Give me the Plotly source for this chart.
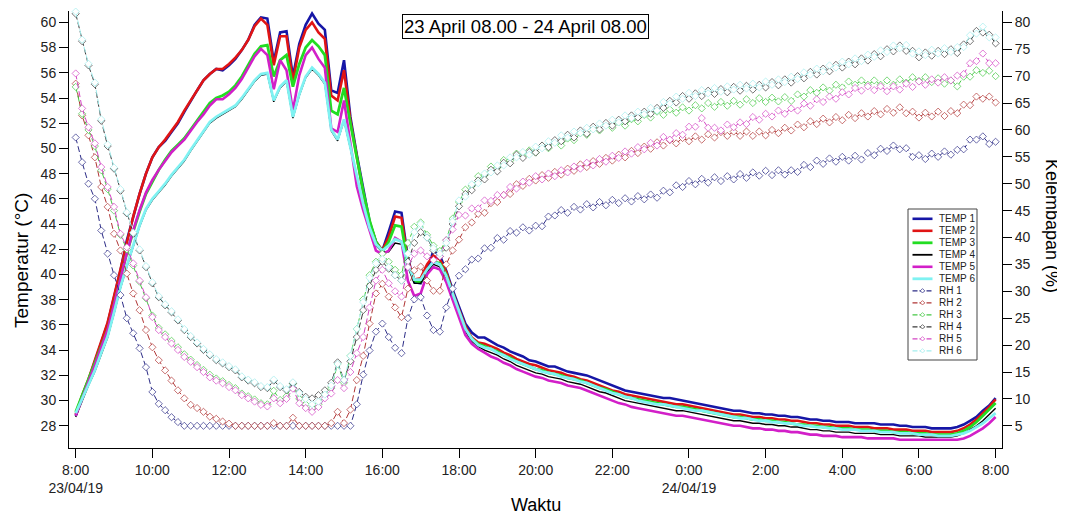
import pandas as pd
import plotly.graph_objects as go

# ---------------- data (10-minute samples, 23/04/19 08:00 -> 24/04/19 08:00) ----------------
start_time = "2019-04-23 08:00"
n_points = 145

temp1 = [28.8, 30.3, 31.6, 33.1, 34.5, 36.1, 38.2, 40.3, 42.7, 44.6,
         46.4, 48.0, 49.3, 50.1, 50.6, 51.3, 52.0, 52.9, 53.8, 54.6,
         55.4, 55.9, 56.3, 56.2, 56.6, 57.1, 57.8, 58.6, 59.8, 60.4,
         60.3, 56.9, 59.2, 59.3, 55.7, 58.3, 59.8, 60.7, 59.9, 59.4,
         54.6, 54.4, 57.0, 52.5, 49.5, 46.7, 44.2, 42.6, 41.9, 43.4,
         45.0, 44.9, 41.3, 39.4, 39.3, 40.3, 41.9, 41.5, 40.3, 38.8,
         37.4, 36.1, 35.4, 35.0, 35.0,
         34.7, 34.4, 34.2, 33.9, 33.7, 33.5, 33.2, 33.1, 32.9, 32.7,
         32.7, 32.5, 32.3, 32.2, 32.1, 32.0, 31.8, 31.6, 31.4, 31.2,
         31.0, 30.8, 30.7, 30.6, 30.5, 30.4, 30.3, 30.2, 30.2, 30.1,
         30.0, 29.9, 29.8, 29.7, 29.6, 29.5, 29.4, 29.3, 29.2, 29.2,
         29.1, 29.0, 29.0, 28.9, 28.9, 28.8, 28.8, 28.7, 28.7, 28.6,
         28.5, 28.5, 28.4, 28.4, 28.3, 28.3, 28.3, 28.2, 28.2, 28.2,
         28.2, 28.1, 28.1, 28.1, 28.0, 28.0, 27.9, 27.9, 27.9, 27.8,
         27.8, 27.8, 27.8, 27.9, 28.1, 28.4, 28.7, 29.2, 29.6, 30.2]

temp2 = [28.9, 30.4, 31.7, 33.2, 34.6, 36.2, 38.3, 40.4, 42.7, 44.6,
         46.4, 48.0, 49.3, 50.1, 50.7, 51.4, 52.1, 53.0, 53.8, 54.6,
         55.4, 55.9, 56.3, 56.3, 56.7, 57.2, 57.8, 58.6, 59.7, 60.3,
         59.8, 56.6, 58.9, 58.9, 55.3, 58.0, 59.4, 60.0, 59.2, 58.7,
         54.2, 53.8, 56.2, 52.2, 49.3, 46.5, 44.1, 42.6, 41.9, 43.0,
         44.6, 44.5, 41.1, 39.6, 39.7, 40.8, 41.5, 41.2, 40.2, 38.6,
         37.2, 35.9, 35.0, 34.6, 34.5,
         34.3, 34.1, 33.8, 33.6, 33.3, 33.1, 32.9, 32.8, 32.6, 32.4,
         32.3, 32.2, 32.0, 31.9, 31.7, 31.6, 31.4, 31.2, 31.0, 30.8,
         30.7, 30.5, 30.4, 30.3, 30.2, 30.1, 30.0, 29.9, 29.8, 29.7,
         29.7, 29.6, 29.5, 29.4, 29.3, 29.2, 29.1, 29.0, 28.9, 28.9,
         28.8, 28.7, 28.7, 28.6, 28.6, 28.5, 28.5, 28.4, 28.4, 28.3,
         28.2, 28.2, 28.1, 28.1, 28.0, 28.0, 28.0, 27.9, 27.9, 27.9,
         27.8, 27.8, 27.8, 27.7, 27.7, 27.7, 27.6, 27.6, 27.6, 27.5,
         27.5, 27.5, 27.5, 27.6, 27.8, 28.1, 28.5, 29.0, 29.5, 30.1]

temp3 = [29.1, 30.4, 31.6, 32.9, 34.3, 35.6, 37.6, 39.7, 41.7, 43.4,
         45.0, 46.4, 47.4, 48.3, 49.1, 49.8, 50.3, 50.8, 51.5, 52.2,
         52.9, 53.6, 54.0, 54.2, 54.5, 55.0, 55.7, 56.6, 57.5, 58.1,
         58.2, 55.7, 57.0, 57.4, 54.9, 56.7, 58.0, 58.6, 58.1, 57.4,
         53.0, 52.7, 54.8, 52.0, 49.3, 46.6, 44.3, 42.6, 41.8, 42.6,
         43.9, 43.8, 40.9, 39.5, 39.4, 40.3, 41.0, 40.9, 40.0, 38.5,
         37.0, 35.7, 34.9, 34.5, 34.3,
         34.1, 33.9, 33.6, 33.4, 33.1, 32.9, 32.7, 32.5, 32.4, 32.2,
         32.1, 32.0, 31.8, 31.7, 31.6, 31.4, 31.2, 31.0, 30.9, 30.7,
         30.5, 30.3, 30.2, 30.1, 30.0, 29.9, 29.8, 29.7, 29.6, 29.5,
         29.5, 29.4, 29.3, 29.2, 29.1, 29.0, 28.9, 28.8, 28.7, 28.7,
         28.6, 28.5, 28.5, 28.4, 28.4, 28.3, 28.3, 28.2, 28.1, 28.1,
         28.0, 28.0, 27.9, 27.9, 27.8, 27.8, 27.8, 27.7, 27.7, 27.7,
         27.6, 27.6, 27.6, 27.5, 27.5, 27.5, 27.4, 27.4, 27.4, 27.3,
         27.3, 27.3, 27.3, 27.4, 27.6, 27.9, 28.3, 28.8, 29.3, 29.8]

temp4 = [28.7, 30.0, 31.2, 32.3, 33.7, 35.0, 36.9, 38.9, 40.6, 42.3,
         43.8, 45.1, 45.9, 46.5, 47.1, 47.8, 48.4, 49.0, 49.8, 50.5,
         51.3, 52.0, 52.4, 52.7, 53.0, 53.3, 53.9, 54.6, 55.3, 55.8,
         55.9, 53.7, 54.8, 55.3, 52.4, 54.2, 55.6, 56.3, 55.8, 55.1,
         51.4, 50.6, 52.2, 50.0, 47.8, 45.5, 43.6, 42.3, 41.8, 41.8,
         42.5, 42.4, 40.6, 39.3, 39.3, 40.2, 40.8, 40.6, 39.7, 38.3,
         36.8, 35.5, 34.7, 34.3, 34.0,
         33.8, 33.6, 33.3, 33.1, 32.8, 32.6, 32.4, 32.2, 32.1, 31.9,
         31.8, 31.7, 31.5, 31.4, 31.3, 31.1, 30.9, 30.7, 30.6, 30.4,
         30.2, 30.0, 29.9, 29.8, 29.7, 29.6, 29.5, 29.4, 29.3, 29.2,
         29.2, 29.1, 29.0, 28.9, 28.8, 28.7, 28.6, 28.5, 28.4, 28.4,
         28.3, 28.2, 28.2, 28.1, 28.1, 28.0, 28.0, 27.9, 27.9, 27.8,
         27.7, 27.7, 27.6, 27.6, 27.5, 27.5, 27.5, 27.4, 27.4, 27.4,
         27.4, 27.3, 27.3, 27.3, 27.2, 27.2, 27.2, 27.2, 27.1, 27.1,
         27.1, 27.1, 27.1, 27.2, 27.4, 27.7, 28.0, 28.4, 28.9, 29.4]

temp5 = [28.8, 30.2, 31.5, 32.8, 34.2, 35.6, 37.6, 39.7, 41.7, 43.5,
         45.1, 46.5, 47.5, 48.3, 49.0, 49.7, 50.2, 50.7, 51.4, 52.1,
         52.7, 53.4, 53.9, 53.9, 54.3, 54.8, 55.5, 56.4, 57.3, 57.9,
         57.4, 54.7, 57.0, 56.2, 53.0, 55.8, 57.4, 58.0, 57.1, 56.4,
         51.6, 51.3, 53.8, 50.4, 47.0, 45.1, 43.5, 41.9, 41.6, 41.9,
         42.9, 42.6, 39.5, 38.3, 38.5, 40.0, 40.6, 40.4, 39.4, 38.0,
         36.6, 35.2, 34.5, 34.1, 33.8,
         33.5, 33.3, 33.0, 32.8, 32.5, 32.3, 32.1, 31.9, 31.8, 31.6,
         31.5, 31.4, 31.2, 31.1, 31.0, 30.8, 30.6, 30.4, 30.2, 30.0,
         29.8, 29.7, 29.5, 29.4, 29.3, 29.2, 29.1, 29.0, 28.9, 28.8,
         28.8, 28.7, 28.6, 28.5, 28.4, 28.3, 28.2, 28.1, 28.0, 28.0,
         27.9, 27.8, 27.8, 27.7, 27.7, 27.6, 27.6, 27.5, 27.5, 27.4,
         27.3, 27.3, 27.2, 27.2, 27.2, 27.1, 27.1, 27.1, 27.1, 27.0,
         27.0, 27.0, 27.0, 27.0, 26.9, 26.9, 26.9, 26.9, 26.9, 26.9,
         26.9, 26.9, 26.9, 26.9, 27.0, 27.2, 27.5, 27.8, 28.2, 28.7]

temp6 = [29.0, 30.1, 31.3, 32.4, 33.8, 35.1, 37.0, 39.0, 40.7, 42.4,
         43.9, 45.2, 46.0, 46.6, 47.2, 47.9, 48.5, 49.1, 49.9, 50.6,
         51.4, 52.1, 52.5, 52.8, 53.1, 53.4, 54.0, 54.7, 55.4, 55.9,
         56.0, 53.8, 54.9, 55.4, 52.5, 54.3, 55.7, 56.4, 55.9, 55.2,
         51.5, 50.7, 52.3, 50.1, 47.9, 45.6, 43.7, 42.4, 41.9, 42.3,
         42.8, 42.6, 40.8, 39.6, 39.6, 40.4, 41.0, 40.8, 39.9, 38.5,
         37.0, 35.7, 34.9, 34.4, 34.2,
         34.1, 33.8, 33.6, 33.3, 33.1, 32.9, 32.7, 32.5, 32.3, 32.2,
         32.1, 31.9, 31.8, 31.7, 31.5, 31.4, 31.2, 31.0, 30.8, 30.6,
         30.5, 30.3, 30.2, 30.0, 29.9, 29.8, 29.7, 29.7, 29.6, 29.5,
         29.4, 29.3, 29.2, 29.2, 29.1, 29.0, 28.9, 28.8, 28.7, 28.6,
         28.6, 28.5, 28.4, 28.4, 28.3, 28.3, 28.2, 28.2, 28.1, 28.0,
         28.0, 27.9, 27.9, 27.8, 27.8, 27.7, 27.7, 27.7, 27.6, 27.6,
         27.6, 27.5, 27.5, 27.5, 27.4, 27.4, 27.4, 27.3, 27.3, 27.3,
         27.2, 27.2, 27.2, 27.3, 27.4, 27.6, 27.9, 28.2, 28.6, 29.0]

rh1 = [58.6, 54.0, 50.0, 47.2, 41.3, 37.0, 33.0, 29.3, 25.0, 22.2,
       19.4, 15.9, 11.3, 9.1, 7.9, 6.6, 5.7, 5.0, 5.0, 5.0,
       5.0, 5.0, 5.0, 5.0, 5.0, 5.0, 5.0, 5.0, 5.0, 5.0,
       5.0, 5.0, 5.0, 5.0, 5.0, 5.0, 5.0, 5.0, 5.0, 5.0,
       5.0, 5.0, 5.0, 5.0, 9.0, 14.5, 19.0, 22.5, 24.0, 21.5,
       19.5, 18.5, 25.0, 28.5, 28.9, 25.5, 22.8, 22.5, 27.0, 30.5,
       32.9, 34.1, 35.9, 36.1, 38.0, 38.1, 39.9, 39.6, 41.2, 40.9,
       41.9, 41.3, 42.2, 42.1, 43.9, 44.1, 45.1, 44.6, 45.7, 45.2,
       46.2, 45.6, 46.6, 46.0, 47.0, 46.4, 47.3, 46.7, 47.7, 47.1,
       48.0, 47.4, 48.7, 48.4, 49.7, 49.4, 50.5, 49.9, 50.9, 50.2,
       51.2, 50.5, 51.4, 50.8, 51.8, 51.1, 52.1, 51.5, 52.4, 51.6,
       52.5, 51.7, 52.5, 52.2, 53.5, 53.1, 54.3, 53.7, 54.7, 54.1,
       55.0, 54.3, 55.2, 54.5, 55.7, 55.3, 56.5, 56.1, 57.1, 56.4,
       56.6, 55.0, 55.3, 54.6, 55.6, 55.0, 56.0, 55.4, 56.3, 56.4,
       58.2, 58.2, 58.8, 57.4, 57.8]

rh2 = [68.6, 62.7, 59.0, 54.9, 49.4, 45.7, 40.7, 37.6, 33.3, 29.6,
       26.5, 22.8, 19.6, 17.2, 15.3, 13.4, 11.6, 10.1, 8.9, 8.3,
       7.6, 6.7, 6.3, 5.8, 5.4, 5.0, 5.0, 5.0, 5.0, 5.0,
       5.0, 5.5, 5.0, 5.0, 6.5, 5.0, 5.0, 5.0, 5.0, 5.0,
       5.5, 7.6, 5.5, 8.0, 13.5, 18.0, 24.0, 29.6, 31.4, 29.0,
       27.0, 25.2, 30.5, 33.9, 34.6, 32.0, 30.1, 30.1, 35.0, 37.6,
       39.6, 41.9, 42.8, 44.4, 44.6, 46.4, 46.6, 47.9, 48.1, 49.9,
       49.6, 50.9, 50.6, 51.6, 51.1, 52.2, 51.7, 52.8, 52.4, 53.6,
       53.1, 54.2, 53.7, 54.8, 54.3, 55.4, 54.9, 56.1, 55.7, 56.9,
       56.5, 57.7, 57.1, 58.1, 57.5, 58.5, 57.9, 58.8, 58.2, 59.2,
       58.6, 59.6, 58.9, 59.7, 58.9, 59.7, 58.9, 59.7, 59.0, 60.0,
       59.4, 60.4, 59.9, 61.0, 60.5, 61.6, 61.1, 62.1, 61.4, 62.4,
       61.8, 62.8, 62.2, 63.1, 62.5, 63.5, 62.9, 63.9, 63.2, 64.2,
       63.1, 63.4, 62.3, 63.2, 62.5, 63.4, 62.6, 63.5, 63.1, 64.7,
       64.6, 66.2, 65.8, 66.2, 65.1]

rh3 = [68.0, 63.0, 60.0, 57.0, 52.5, 49.0, 45.0, 40.5, 37.8, 34.8,
       31.8, 28.7, 25.5, 23.2, 22.0, 20.8, 19.6, 18.3, 17.3, 16.3,
       15.4, 14.5, 13.8, 13.3, 12.6, 12.0, 11.0, 10.5, 9.9, 9.2,
       9.0, 11.5, 9.8, 10.5, 12.8, 10.0, 9.0, 8.3, 9.0, 10.8,
       12.0, 16.5, 13.0, 18.0, 23.0, 28.5, 33.0, 35.5, 37.0, 35.5,
       34.0, 33.0, 39.0, 42.0, 42.8, 40.5, 38.5, 37.5, 39.5, 43.5,
       46.6, 48.9, 49.6, 51.4, 51.6, 53.2, 53.0, 54.4, 54.3, 55.6,
       55.1, 56.2, 55.8, 57.0, 56.6, 57.7, 57.1, 58.4, 58.1, 59.4,
       59.1, 60.4, 59.9, 61.0, 60.4, 61.4, 60.8, 62.0, 61.6, 62.8,
       62.3, 63.4, 62.8, 63.8, 63.2, 64.2, 63.6, 64.6, 64.0, 65.0,
       64.3, 65.2, 64.5, 65.4, 64.7, 65.7, 65.0, 65.9, 65.2, 66.0,
       65.3, 66.1, 65.4, 66.6, 66.2, 67.4, 66.9, 67.9, 67.3, 68.4,
       67.9, 69.0, 68.4, 69.2, 68.4, 69.2, 68.4, 69.2, 68.4, 69.4,
       68.8, 69.8, 69.1, 69.8, 68.9, 69.6, 68.6, 69.2, 68.1, 69.9,
       69.9, 71.1, 70.6, 71.0, 70.0]

rh4 = [81.6, 76.5, 72.0, 68.5, 61.7, 57.0, 52.8, 48.7, 44.5, 40.7,
       37.6, 34.5, 31.5, 28.9, 27.4, 26.1, 24.6, 22.8, 21.5, 20.3,
       19.1, 18.1, 17.2, 16.6, 15.9, 15.3, 14.0, 13.4, 12.9, 12.2,
       12.0, 13.4, 12.2, 11.6, 12.9, 11.3, 10.4, 10.1, 10.7, 11.6,
       13.0, 16.8, 13.5, 17.0, 21.5, 26.5, 31.0, 34.0, 35.5, 34.2,
       33.0, 32.0, 35.5, 39.0, 41.0, 40.0, 37.6, 36.5, 38.1, 42.5,
       45.8, 48.1, 48.8, 50.6, 50.8, 52.6, 52.3, 53.9, 53.8, 55.4,
       54.8, 55.9, 55.8, 57.1, 56.8, 58.1, 57.9, 59.1, 58.6, 59.9,
       59.3, 60.6, 60.1, 61.3, 60.8, 61.9, 61.6, 62.7, 62.3, 63.4,
       63.0, 64.1, 64.1, 65.4, 65.1, 66.3, 65.8, 66.8, 66.3, 67.3,
       66.7, 67.6, 67.0, 68.0, 67.3, 68.2, 67.5, 68.4, 67.9, 68.9,
       68.3, 69.4, 68.8, 70.0, 69.6, 70.8, 70.3, 71.4, 70.9, 72.1,
       71.6, 72.7, 72.2, 73.3, 72.9, 74.1, 73.7, 75.0, 74.6, 75.7,
       74.7, 74.7, 73.5, 74.4, 73.8, 74.7, 74.1, 75.0, 74.3, 75.9,
       76.5, 78.4, 78.1, 77.7, 76.1]

rh5 = [70.5, 64.0, 60.5, 57.5, 53.1, 49.4, 45.7, 40.7, 38.2, 35.2,
       32.0, 28.9, 25.2, 22.8, 21.5, 20.3, 19.1, 17.8, 16.9, 15.9,
       15.0, 14.0, 13.4, 12.9, 12.2, 11.6, 10.7, 10.1, 9.5, 8.9,
       8.6, 10.1, 9.2, 10.0, 11.9, 9.2, 8.3, 7.6, 8.5, 10.1,
       11.0, 13.5, 12.0, 15.0, 18.5, 21.5, 27.0, 32.0, 34.0, 31.5,
       30.0, 29.0, 34.5, 37.0, 37.6, 36.5, 35.8, 36.5, 39.5, 41.5,
       44.2, 44.1, 45.4, 45.4, 46.9, 46.8, 47.9, 47.9, 49.4, 49.1,
       50.4, 50.2, 51.4, 50.8, 51.9, 51.4, 52.5, 52.1, 53.2, 52.8,
       53.9, 53.4, 54.6, 54.1, 55.2, 54.8, 56.0, 55.6, 56.8, 56.4,
       57.6, 57.1, 58.7, 58.2, 59.4, 59.1, 60.6, 60.6, 62.2, 60.4,
       60.4, 59.9, 61.0, 60.5, 61.4, 61.1, 62.4, 61.9, 63.0, 62.5,
       63.6, 63.0, 64.0, 63.6, 64.9, 64.5, 65.7, 65.2, 66.2, 65.8,
       67.0, 66.6, 67.8, 67.3, 68.1, 67.4, 68.1, 67.2, 68.1, 67.5,
       68.6, 68.0, 69.0, 68.4, 69.4, 68.8, 69.8, 69.2, 70.1, 70.4,
       72.4, 72.8, 74.2, 72.4, 72.4]

rh6 = [82.0, 76.8, 72.3, 68.8, 62.0, 57.3, 53.0, 49.0, 44.7, 40.9,
       37.8, 34.7, 31.7, 29.1, 27.6, 26.3, 24.8, 23.0, 21.7, 20.5,
       19.3, 18.3, 17.4, 16.8, 16.1, 15.5, 14.2, 13.6, 13.1, 12.4,
       12.2, 13.6, 12.4, 11.8, 13.1, 11.1, 10.0, 9.0, 9.5, 10.8,
       12.5, 16.5, 13.5, 18.0, 23.0, 28.0, 32.5, 35.2, 36.0, 34.5,
       33.0, 32.0, 37.0, 41.0, 42.5, 40.0, 38.0, 37.0, 39.0, 43.0,
       46.9, 47.6, 49.9, 50.1, 51.9, 52.1, 53.4, 53.4, 54.9, 54.9,
       55.9, 55.4, 56.9, 56.6, 57.9, 57.6, 59.0, 58.6, 59.7, 59.4,
       60.4, 60.1, 61.2, 60.8, 61.9, 61.4, 62.7, 62.2, 63.4, 62.9,
       64.1, 63.6, 65.2, 64.9, 66.2, 65.8, 66.9, 66.3, 67.4, 66.8,
       67.8, 67.1, 68.1, 67.5, 68.4, 67.7, 68.6, 67.9, 69.0, 68.4,
       69.4, 68.9, 69.9, 69.5, 70.7, 70.3, 71.4, 70.9, 72.0, 71.6,
       72.7, 72.2, 73.3, 72.8, 74.0, 73.6, 74.8, 74.5, 75.7, 75.2,
       75.8, 74.2, 74.6, 73.9, 74.9, 74.2, 75.2, 74.5, 75.4, 75.4,
       77.6, 77.9, 79.2, 77.2, 77.2]

temp_names = ["TEMP 1", "TEMP 2", "TEMP 3", "TEMP 4", "TEMP 5", "TEMP 6"]
rh_names = ["RH 1", "RH 2", "RH 3", "RH 4", "RH 5", "RH 6"]
tick_times = ["2019-04-23 08:00", "2019-04-23 10:00", "2019-04-23 12:00", "2019-04-23 14:00",
              "2019-04-23 16:00", "2019-04-23 18:00", "2019-04-23 20:00", "2019-04-23 22:00",
              "2019-04-24 00:00", "2019-04-24 02:00", "2019-04-24 04:00", "2019-04-24 06:00",
              "2019-04-24 08:00"]
tick_labels = ["8:00<br>23/04/19", "10:00", "12:00", "14:00", "16:00", "18:00", "20:00",
               "22:00", "0:00<br>24/04/19", "2:00", "4:00", "6:00", "8:00"]
temp_ticks = [28, 30, 32, 34, 36, 38, 40, 42, 44, 46, 48, 50, 52, 54, 56, 58, 60]
rh_ticks = [5, 10, 15, 20, 25, 30, 35, 40, 45, 50, 55, 60, 65, 70, 75, 80]

temps = [temp1, temp2, temp3, temp4, temp5, temp6]
rhs = [rh1, rh2, rh3, rh4, rh5, rh6]
for s in temps + rhs:
    assert len(s) == n_points, len(s)

times = pd.date_range(start_time, periods=n_points, freq="10min")

# ---------------- styles ----------------
temp_colors = ["#1616a6", "#e01414", "#22dd22", "#000000", "#d21fc8", "#7ff2f2"]
temp_widths = [2.6, 2.6, 2.8, 1.4, 2.6, 2.8]
rh_colors = ["#2c2c86", "#b03434", "#45c845", "#3a3a3a", "#d445c4", "#a4eeee"]

FONT = "Liberation Sans, Arial, sans-serif"
# the page body has an 8px default margin: the figure is drawn 8px right/down
OFF = 8
W, H = 1065 - OFF, 518 - OFF
# plot-area edges in screenshot pixels
PL, PR, PT, PB = 69, 1002, 11, 448

fig = go.Figure()
for name, ys, c, w in zip(temp_names, temps, temp_colors, temp_widths):
    fig.add_trace(go.Scatter(x=times, y=ys, name=name, mode="lines",
                             line=dict(color=c, width=w), yaxis="y", showlegend=False))
for name, ys, c in zip(rh_names, rhs, rh_colors):
    fig.add_trace(go.Scatter(x=times, y=ys, name=name, mode="lines+markers",
                             line=dict(color=c, width=1, dash="6px,3px"),
                             marker=dict(symbol="diamond", size=5.5, color="white",
                                         line=dict(color=c, width=0.7)),
                             yaxis="y2", showlegend=False, cliponaxis=False))

axis_common = dict(showline=True, linecolor="black", linewidth=1, ticks="outside",
                   ticklen=9, tickwidth=1, tickcolor="black", showgrid=False,
                   zeroline=False, tickfont=dict(family=FONT, size=14, color="#222"))

fig.update_layout(
    width=W, height=H,
    margin=dict(l=PL - OFF, r=1065 - PR, t=PT - OFF, b=518 - PB, pad=0),
    paper_bgcolor="white", plot_bgcolor="white",
    showlegend=False,
    xaxis=dict(type="date", range=["2019-04-23 07:49:30", "2019-04-24 08:10:00"],
               tickmode="array", tickvals=tick_times, ticktext=tick_labels, **axis_common),
    yaxis=dict(range=[26.24, 60.9], tickmode="array", tickvals=temp_ticks, **axis_common),
    yaxis2=dict(range=[0.875, 82.109], tickmode="array", tickvals=rh_ticks,
                overlaying="y", side="right", **axis_common),
)


def fx(px):
    return (px - PL) / (PR - PL)


def fy(py):
    return (PB - py) / (PB - PT)


annotations = [
    dict(text="23 April 08.00 - 24 April 08.00", x=fx(525), y=fy(26.5), xref="paper", yref="paper",
         showarrow=False, font=dict(family=FONT, size=18.5, color="black"),
         bordercolor="black", borderwidth=1, borderpad=1, bgcolor="white",
         xanchor="center", yanchor="middle"),
    dict(text="Temperatur (°C)", x=fx(22), y=fy(261), xref="paper", yref="paper", showarrow=False,
         textangle=-90, font=dict(family=FONT, size=19, color="black"),
         xanchor="center", yanchor="middle"),
    dict(text="Kelembapan (%)", x=fx(1052), y=fy(226), xref="paper", yref="paper", showarrow=False,
         textangle=90, font=dict(family=FONT, size=18, color="black"),
         xanchor="center", yanchor="middle"),
    dict(text="Waktu", x=fx(536), y=fy(505), xref="paper", yref="paper", showarrow=False,
         font=dict(family=FONT, size=18, color="black"), xanchor="center", yanchor="middle"),
]

shapes = [dict(type="rect", xref="paper", yref="paper", x0=fx(908), x1=fx(977),
               y0=fy(209), y1=fy(360), line=dict(color="#444", width=1), fillcolor="white",
               layer="above")]

legend_names = temp_names + rh_names
row0, drow = 218.8, 12.0
for k, name in enumerate(legend_names):
    py = row0 + drow * k
    if k < 6:
        c = temp_colors[k]
        shapes.append(dict(type="line", xref="paper", yref="paper", x0=fx(912.5), x1=fx(932.5),
                           y0=fy(py), y1=fy(py), line=dict(color=c, width=max(temp_widths[k], 1.8))))
        tx = 937.0
    else:
        c = rh_colors[k - 6]
        shapes.append(dict(type="line", xref="paper", yref="paper", x0=fx(912.5), x1=fx(932.5),
                           y0=fy(py), y1=fy(py), line=dict(color=c, width=1.2, dash="5px,2px")))
        d = 2.2
        cx = 922.5
        path = (f"M {fx(cx - d)},{fy(py)} L {fx(cx)},{fy(py - d)} "
                f"L {fx(cx + d)},{fy(py)} L {fx(cx)},{fy(py + d)} Z")
        shapes.append(dict(type="path", xref="paper", yref="paper", path=path,
                           line=dict(color=c, width=0.7), fillcolor="white"))
        tx = 936.5
    annotations.append(dict(text=name, x=fx(tx), y=fy(py), xref="paper", yref="paper",
                            showarrow=False, xanchor="left", yanchor="middle",
                            font=dict(family=FONT, size=10, color="#222")))

fig.update_layout(annotations=annotations, shapes=shapes)
fig.write_html("out.html")
